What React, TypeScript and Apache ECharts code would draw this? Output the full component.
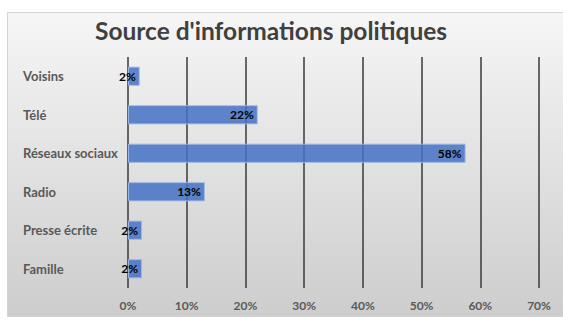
import React, { useEffect, useRef } from "react";
import * as echarts from "echarts";

const categories = ["Famille", "Presse écrite", "Radio", "Réseaux sociaux", "Télé", "Voisins"];
const values = [2.4, 2.4, 13.1, 57.5, 22.1, 2.0];
const titleText = "Source d'informations politiques";

export default function App() {
  const ref = useRef<HTMLDivElement>(null);
  useEffect(() => {
    if (!ref.current) return;
    const chart = echarts.init(ref.current, undefined, { renderer: "svg" });
    const font = "Lato, 'Open Sans', sans-serif";
    chart.setOption({
      animation: false,
      backgroundColor: "#ffffff",
      graphic: [
        {
          type: "rect",
          z: -10,
          silent: true,
          shape: { x: 7.5, y: 12.5, width: 570, height: 304 },
          style: {
            fill: new echarts.graphic.LinearGradient(0, 0, 0, 1, [
              { offset: 0, color: "#f6f6f6" },
              { offset: 1, color: "#cdcdcd" },
            ]),
            stroke: "#d4d4d4",
            lineWidth: 1,
          },
        },
      ],
      title: {
        text: titleText,
        left: 90,
        top: 13,
        textStyle: { fontFamily: font, fontSize: 24.5, fontWeight: "bold", color: "#404040" },
      },
      grid: { left: 128, right: 24, top: 57, bottom: 30, containLabel: false },
      xAxis: {
        type: "value",
        min: 0,
        max: 70,
        interval: 10,
        axisLine: { show: false },
        axisTick: { show: false },
        axisLabel: {
          formatter: "{value}%",
          fontFamily: font,
          fontSize: 12,
          fontWeight: "bold",
          color: "#595959",
          margin: 11,
        },
        splitLine: { show: true, lineStyle: { color: "#3a3a3a", width: 1.5 } },
      },
      yAxis: {
        type: "category",
        data: categories,
        axisLine: { show: false },
        axisTick: { show: false },
        axisLabel: {
          align: "left",
          margin: 105,
          fontFamily: font,
          fontSize: 13,
          fontWeight: "bold",
          color: "#595959",
        },
      },
      series: [
        {
          type: "bar",
          data: values,
          barCategoryGap: "50%",
          itemStyle: {
            color: "rgba(68,114,196,0.85)",
            borderColor: "rgba(160,188,232,0.9)",
            borderWidth: 1,
          },
          label: {
            show: true,
            position: "insideRight",
            distance: 4,
            formatter: (p: any) => Math.round(p.value) + "%",
            fontFamily: font,
            fontSize: 12,
            fontWeight: "bold",
            color: "#000000",
          },
        },
      ],
    });
    return () => chart.dispose();
  }, []);
  return (
    <div
      ref={ref}
      style={{ position: "fixed", left: 0, top: 0, width: 563, height: 318 }}
    />
  );
}
